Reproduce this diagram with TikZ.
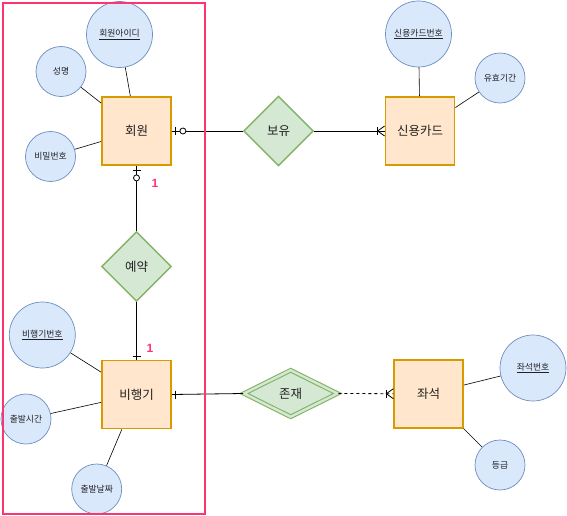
\documentclass[tikz,border=0pt]{standalone}
\usepackage{fontspec}
\usepackage{tikz}
\usetikzlibrary{calc,shapes.geometric}
\newfontfamily\kr{Noto Sans CJK KR}
\newfontfamily\numf{Liberation Sans}
\definecolor{entc}{HTML}{D79B00}
\definecolor{entbg}{HTML}{FFE6CC}
\definecolor{attc}{HTML}{6C8EBF}
\definecolor{attbg}{HTML}{DAE8FC}
\definecolor{relc}{HTML}{82B366}
\definecolor{relbg}{HTML}{D5E8D4}
\definecolor{pinkc}{HTML}{FF3370}
\definecolor{txtc}{HTML}{222222}
\tikzset{
  ent/.style={draw=entc,line width=1.8pt,fill=entbg,minimum width=69pt,minimum height=68pt,inner sep=0pt,text=txtc,font=\kr\fontsize{12.5}{14}\selectfont},
  att/.style={circle,draw=attc,fill=attbg,line width=0.7pt,inner sep=0pt,minimum size=50pt,text=txtc,font=\kr\fontsize{8.8}{10}\selectfont},
  keyatt/.style={att,minimum size=66pt},
  rel/.style={diamond,draw=relc,line width=1.4pt,fill=relbg,inner sep=0pt,minimum width=70pt,minimum height=70pt,text=txtc,font=\kr\fontsize{12.5}{14}\selectfont},
  wrel/.style={rel,aspect=2,minimum width=94pt,minimum height=47pt,double=relbg,double distance=2.4pt,line width=1.1pt},
  ln/.style={black,line width=0.8pt},
  aln/.style={black,line width=0.6pt},
  one/.style={font=\numf\bfseries\fontsize{12}{13}\selectfont,text=pinkc}
}
\begin{document}
\begin{tikzpicture}[x=1pt,y=-1pt]
\useasboundingbox (0,0) rectangle (567,516);
% entities
\node[ent] (hoewon) at (136.5,131) {회원};
\node[ent] (card) at (420,131) {신용카드};
\node[ent] (bihaeng) at (136.5,394.5) {비행기};
\node[ent] (jwaseok) at (428.7,393.7) {좌석};
% relations
\node[rel] (boyu) at (278.5,131) {보유};
\node[rel] (yeyak) at (136.5,266.5) {예약};
\node[wrel] (jonjae) at (290.7,393.5) {존재};
% attributes
\node[keyatt] (hid) at (119.5,34.5) {\underline{회원아이디}};
\node[att] (sname) at (61,71.5) {성명};
\node[att] (pw) at (50.5,156.5) {비밀번호};
\node[keyatt] (cid) at (418.5,34) {\underline{신용카드번호}};
\node[att] (exp) at (500,78) {유효기간};
\node[keyatt] (pid) at (42.3,335) {\underline{비행기번호}};
\node[att] (dtime) at (26,419) {출발시간};
\node[att] (ddate) at (96.7,489) {출발날짜};
\node[keyatt] (sid) at (533,368) {\underline{좌석번호}};
\node[att] (grade) at (500,465) {등급};
\foreach \a/\b in {hid/hoewon,sname/hoewon,pw/hoewon,cid/card,exp/card,pid/bihaeng,dtime/bihaeng,ddate/bihaeng,sid/jwaseok,grade/jwaseok}
  \draw[aln] (\a) -- (\b);
% relationships
\draw[ln] (hoewon.east) -- (boyu.west);
\draw[ln] (boyu.east) -- (card.west);
\draw[ln] (hoewon.south) -- (yeyak.north);
\draw[ln] (yeyak.south) -- (bihaeng.north);
\draw[ln] (bihaeng.east) -- (jonjae.west);
\draw[ln,dashed] (jonjae.east) -- (jwaseok.west);
% cardinality marks
\draw[ln] ($(hoewon.east)+(3,-4)$) -- ++(0,8);
\draw[ln,fill=white] ($(hoewon.east)+(11,0)$) circle (3pt);
\draw[ln] ($(hoewon.south)+(-4,4)$) -- ++(8,0);
\draw[ln,fill=white] ($(hoewon.south)+(0,12)$) circle (3pt);
\draw[ln] ($(bihaeng.north)+(-4,-3)$) -- ++(8,0);
\draw[ln] ($(bihaeng.east)+(3,-4)$) -- ++(0,8);
\draw[ln] ($(card.west)+(-7,-4)$) -- ++(0,8);
\draw[ln] ($(card.west)+(0,-5)$) -- ($(card.west)+(-7,0)$) -- ($(card.west)+(0,5)$);
\draw[ln] ($(jwaseok.west)+(-7,-4)$) -- ++(0,8);
\draw[ln] ($(jwaseok.west)+(0,-5)$) -- ($(jwaseok.west)+(-7,0)$) -- ($(jwaseok.west)+(0,5)$);
\node[one] (n1) at (155,183) {1};
\node[one] (n2) at (150,348) {1};
% frame
\draw[pinkc,line width=2.6pt] (3,3) rectangle (205,514);
\end{tikzpicture}
\end{document}
